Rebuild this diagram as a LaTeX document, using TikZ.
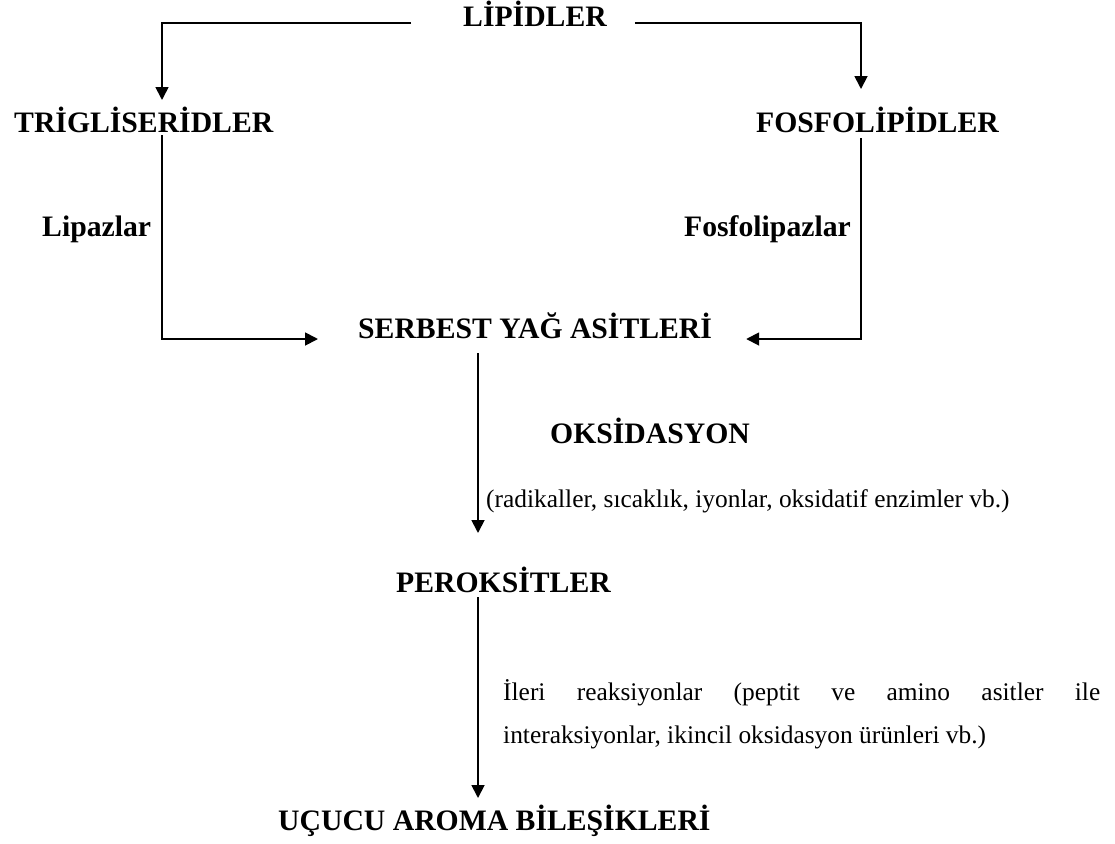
\documentclass[tikz,border=0pt]{standalone}
\usepackage{fontspec}
\setmainfont{Liberation Serif}
\usetikzlibrary{arrows.meta}
\tikzset{
  lbl/.style={inner sep=0pt, anchor=base west, font=\fontsize{29.7}{34}\selectfont\bfseries},
  txt/.style={inner sep=0pt, anchor=base west, font=\fontsize{25.4}{43}\selectfont},
  arr/.style={line width=1.8pt, -{Triangle[length=13pt,width=13pt]}}
}
\begin{document}
\begin{tikzpicture}[x=1pt,y=-1pt]
\useasboundingbox (0,0) rectangle (1115,843);
\node[lbl] (lip) at (463,27) {LİPİDLER};
\node[lbl] (tri) at (14,132) {TRİGLİSERİDLER};
\node[lbl] (fos) at (756,132) {FOSFOLİPİDLER};
\node[lbl] (lipaz) at (42,236) {Lipazlar};
\node[lbl, anchor=base east] (fosaz) at (851,236) {Fosfolipazlar};
\node[lbl] (sya) at (358,338) {SERBEST YAĞ ASİTLERİ};
\node[lbl] (oks) at (550,443) {OKSİDASYON};
\node[txt] (rad) at (486,507) {(radikaller, sıcaklık, iyonlar, oksidatif enzimler vb.)};
\node[lbl] (per) at (396,592) {PEROKSİTLER};
\node[txt, text width=597pt, align=justify] (ileri) at (503,700)
  {İleri reaksiyonlar (peptit ve amino asitler ile\linebreak interaksiyonlar, ikincil oksidasyon ürünleri vb.)};
\node[lbl] (ucu) at (278,830) {UÇUCU AROMA BİLEŞİKLERİ};
% connectors
\draw[arr] (lip.base west) ++(-52,-4) -| ([shift={(148,-32)}]tri.base west);
\draw[arr] (lip.base east) ++(28,-4) -| ([shift={(105,-43)}]fos.base west);
\draw[arr] ([shift={(148,3)}]tri.base west) |- ([shift={(-40,1)}]sya.base west);
\draw[arr] ([shift={(105,6)}]fos.base west) |- ([shift={(34,1)}]sya.base east);
\draw[arr] ([shift={(120,15)}]sya.base west) -- ([shift={(82,-59)}]per.base west);
\draw[arr] ([shift={(82,5)}]per.base west) -- ([shift={(200,-32)}]ucu.base west);
\end{tikzpicture}
\end{document}
